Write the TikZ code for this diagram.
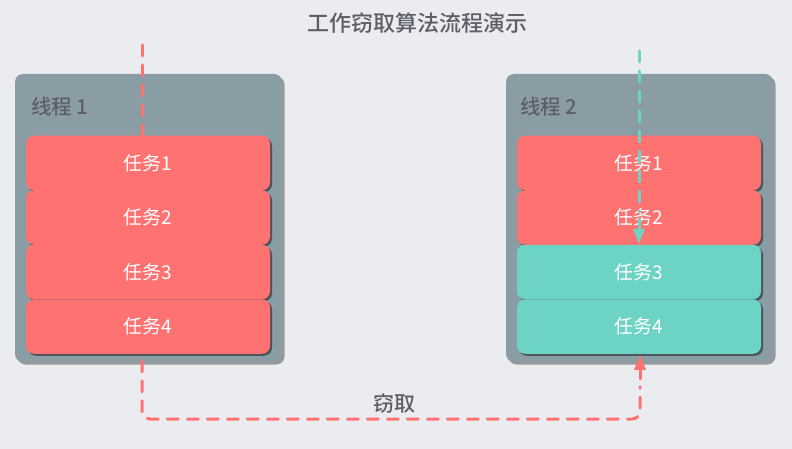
\documentclass[tikz,border=0pt]{standalone}
\usepackage{fontspec}
\setmainfont{Noto Sans CJK SC}
\newfontfamily\medfont{Noto Sans CJK SC Medium}
\usetikzlibrary{arrows.meta,shadows}

\definecolor{bgcol}{RGB}{235,236,240}
\definecolor{threadcol}{RGB}{138,156,164}
\definecolor{taskred}{RGB}{255,114,114}
\definecolor{taskteal}{RGB}{109,211,197}
\definecolor{textcol}{RGB}{92,94,104}

\tikzset{
    threadbox/.style={draw=none, fill=threadcol, rounded corners=8pt,
        minimum width=267pt, minimum height=288pt, inner sep=0pt, outer sep=0pt,
        drop shadow={shadow xshift=2.5pt, shadow yshift=-2.5pt, fill=black, opacity=0.35}},
    threadlabel/.style={text=textcol, font=\medfont\fontsize{20.5}{20.5}\selectfont, anchor=west, inner sep=0pt},
    task/.style={draw=none, rounded corners=8pt, minimum width=244pt, minimum height=54.5pt,
        inner sep=0pt, outer sep=0pt, text=white, font=\fontsize{19}{19}\selectfont,
        drop shadow={shadow xshift=2pt, shadow yshift=-2pt, fill=black, opacity=0.45}},
    flow/.style={line width=3pt, line cap=round, dash pattern=on 11pt off 9pt},
    flowtip/.style={line width=3pt, line cap=round, -{Triangle[length=15pt,width=11pt]}},
}

\begin{document}
\begin{tikzpicture}[x=1pt,y=-1pt]
    \fill[bgcol] (0,0) rectangle (792,449);
    \useasboundingbox (0,0) rectangle (792,449);

    \node[text=textcol, font=\medfont\fontsize{22}{22}\selectfont] (title) at (417,23) {工作窃取算法流程演示};

    % threads
    \node[threadbox] (th1) at (148.5,218) {};
    \node[threadbox] (th2) at (639.5,218) {};
    \node[threadlabel] (lab1) at (31,107) {线程 1};
    \node[threadlabel] (lab2) at (520,107) {线程 2};

    \coordinate (in1) at (142,45);
    \coordinate (in2) at (639,51);
    \coordinate (turn) at (0,419);

    % own pop on thread 1 (under the tasks)
    \draw[flow, taskred] (in1) -- (in1 |- 0,136);

    \foreach \i in {1,...,4}
        \node[task, fill=taskred] (l\i) at (148,108.5+54.5*\i) {任务\i};
    \foreach \i/\c in {1/taskred,2/taskred,3/taskteal,4/taskteal}
        \node[task, fill=\c] (r\i) at (639,108.5+54.5*\i) {任务\i};

    % own pop on thread 2
    \coordinate (pop) at ([yshift=1pt]in2 |- r3.north);
    \draw[flow, taskteal] (in2) -- ([yshift=32pt]pop);
    \draw[flowtip, taskteal] ([yshift=24pt]pop) -- (pop);

    % steal
    \coordinate (tip) at ([xshift=1pt,yshift=-1pt]in2 |- r4.south);
    \draw[flow, taskred, rounded corners=8pt]
        (in1 |- l4.south) ++(0,7) -- (in1 |- turn) -- (tip |- turn) -- ([yshift=-32pt]tip);
    \draw[flowtip, taskred] ([yshift=-24pt]tip) -- (tip);

    \node[text=textcol, font=\medfont\fontsize{21}{21}\selectfont] (steal) at (394,404) {窃取};
\end{tikzpicture}
\end{document}
